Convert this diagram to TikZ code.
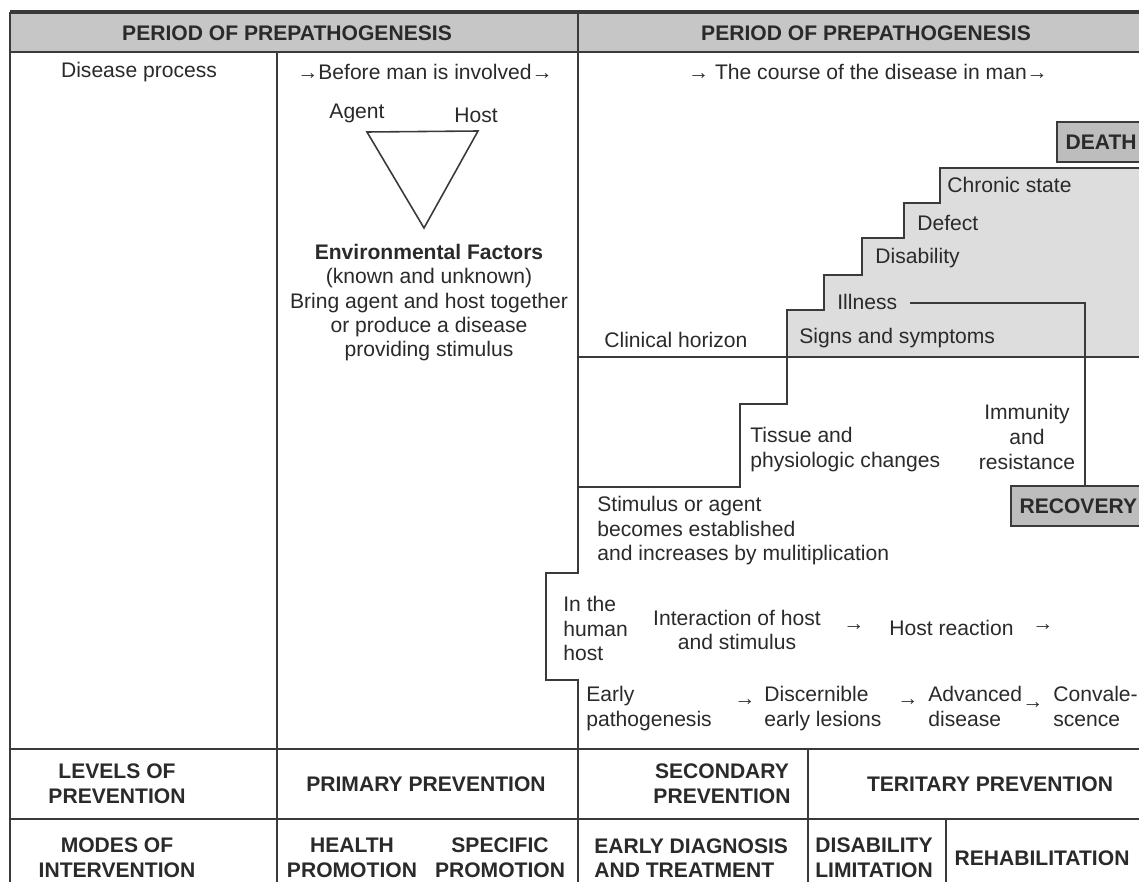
\documentclass[tikz,border=0pt]{standalone}
\usepackage{fontspec}
\setmainfont{Liberation Sans}
\definecolor{headgray}{HTML}{C6C6C6}
\definecolor{stairgray}{HTML}{DDDDDD}
\definecolor{boxgray}{HTML}{BDBDBD}
\definecolor{ink}{HTML}{2A2A2A}
\definecolor{rulecol}{HTML}{3A3A3A}
\tikzset{
  txt/.style={font=\fontsize{12}{14}\selectfont, text=ink, inner sep=0pt, align=center},
  bold/.style={txt, font=\fontsize{12}{14}\selectfont\bfseries},
  rule/.style={draw=rulecol, line width=0.9pt},
  endbox/.style={bold, draw=rulecol, fill=boxgray, line width=0.9pt, inner xsep=5pt, minimum height=23pt, anchor=west},
}
\begin{document}
\begin{tikzpicture}[x=0.02cm, y=-0.02cm]
\useasboundingbox (0,0) rectangle (1139,882);
% Cabecera
\fill[headgray] (10,12) rectangle (1150,52);
\draw[draw=rulecol, line width=2pt] (10,12) -- (1150,12);
\draw[rule] (10,52) -- (1150,52);
\node[bold] (hdleft) at (287,33) {PERIOD OF PREPATHOGENESIS};
\node[bold] (hdright) at (866,33) {PERIOD OF PREPATHOGENESIS};
% Columnas y filas
\draw[rule] (10,12) -- (10,890);
\draw[rule] (277,52) -- (277,890);
\draw[rule] (578,12) -- (578,573) -- (546,573) -- (546,680) -- (578,680) -- (578,890); % con muesca
\draw[rule] (10,749) -- (1150,749);
\draw[rule] (10,819) -- (1150,819);
\draw[rule] (808,749) -- (808,890);
\draw[rule] (946,819) -- (946,890);
% Primera fila
\node[txt] (process) at (139,72) {Disease process};
\node[txt] (before) at (425,72) {→Before man is involved→};
\node[txt] (course) at (868,72) {→ The course of the disease in man→};
% Triada agente - huesped - ambiente
\coordinate (agentpt) at (367,132);
\coordinate (hostpt) at (478,131);
\coordinate (envpt) at (424,228);
\draw[rule] (agentpt) -- (hostpt) -- (envpt) -- cycle;
\node[txt] (agent) at (357,113) {Agent};
\node[txt] (host) at (476,115) {Host};
\node[txt, anchor=north, font=\fontsize{12}{13.8}\selectfont] (env) at (429,244)
  {\textbf{Environmental Factors}\\(known and unknown)\\Bring agent and host together\\or produce a disease\\providing stimulus};
% Escalera (zona sombreada sobre el horizonte clinico)
\fill[stairgray] (787,357) |- (824,310) |- (862,275) |- (904,238) |- (940,203) |- (1150,168) -- (1150,357) -- cycle;
\draw[rule] (578,487) -- (740,487) -- (740,404) -- (787,404) -- (787,310) -- (824,310) -- (824,275)
  -- (862,275) -- (862,238) -- (904,238) -- (904,203) -- (940,203) -- (940,168) -- (1150,168);
\draw[rule] (578,357) -- (1150,357); % horizonte clinico
\node[endbox] (death) at (1056,142) {DEATH};
\node[endbox] (recovery) at (1010,506) {RECOVERY};
\node[txt, anchor=west] (chronic) at (947,185) {Chronic state};
\node[txt, anchor=west] (defect) at (917,223) {Defect};
\node[txt, anchor=west] (disability) at (875,258) {Disability};
\node[txt, anchor=west] (illness) at (837,302) {Illness};
\node[txt, anchor=west] (signs) at (799,338) {Signs and symptoms};
\node[txt, anchor=west] (horizon) at (604,340) {Clinical horizon};
% Linea de la enfermedad a la recuperacion
\coordinate (turn) at (1085,303);
\draw[rule] ([xshift=7pt]illness.east |- turn) -- (turn) -- (turn |- recovery.north);
\node[txt, anchor=north west, align=left] (tissue) at (750,427) {Tissue and\\physiologic changes};
\node[txt] (immunity) at (1027,437) {Immunity\\and\\resistance};
\node[txt, anchor=north west, align=left] (stimulus) at (597,496)
  {Stimulus or agent\\becomes established\\and increases by mulitiplication};
% En el huesped humano
\node[txt, anchor=north west, align=left] (inhost) at (563,596) {In the\\human\\host};
\node[txt] (interaction) at (737,630) {Interaction of host\\and stimulus};
\node[txt] (arr1) at (854,628) {→};
\node[txt, anchor=west] (reaction) at (889,628) {Host reaction};
\node[txt] (arr2) at (1043,628) {→};
\node[txt, anchor=north west, align=left] (early) at (586,686) {Early\\pathogenesis};
\node[txt] (arr3) at (745,703) {→};
\node[txt, anchor=north west, align=left] (lesions) at (764,686) {Discernible\\early lesions};
\node[txt] (arr4) at (908,703) {→};
\node[txt, anchor=north west, align=left] (advanced) at (928,686) {Advanced\\disease};
\node[txt] (arr5) at (1033,706) {→};
\node[txt, anchor=north west, align=left] (conval) at (1053,686) {Convale-\\scence};
% Niveles de prevencion
\node[bold] (levels) at (117,784) {LEVELS OF\\PREVENTION};
\node[bold] (primary) at (426,784) {PRIMARY PREVENTION};
\node[bold] (secondary) at (722,784) {SECONDARY\\PREVENTION};
\node[bold] (tertiary) at (990,784) {TERITARY PREVENTION};
% Modos de intervencion
\node[bold] (modes) at (117,858) {MODES OF\\INTERVENTION};
\node[bold] (health) at (352,858) {HEALTH\\PROMOTION};
\node[bold] (specific) at (500,858) {SPECIFIC\\PROMOTION};
\node[bold, anchor=west, align=left] (diagnosis) at (594,858) {EARLY DIAGNOSIS\\AND TREATMENT};
\node[bold] (limitation) at (874,858) {DISABILITY\\LIMITATION};
\node[bold] (rehab) at (1042,858) {REHABILITATION};
\end{tikzpicture}
\end{document}
